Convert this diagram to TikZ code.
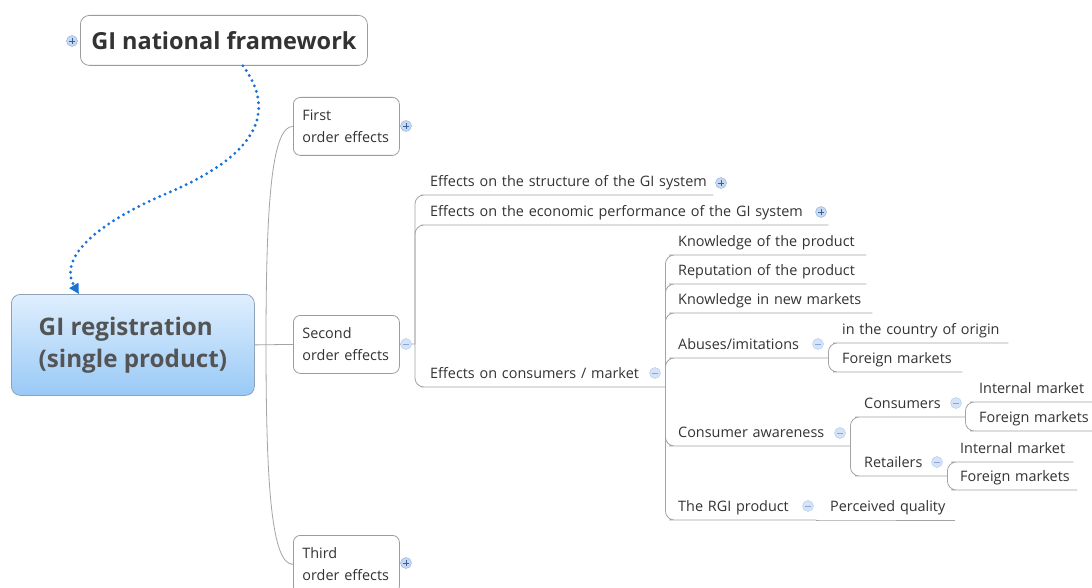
\documentclass[tikz,border=0pt]{standalone}
\usepackage{fontspec}
\setmainfont{Open Sans}
\usetikzlibrary{arrows.meta,positioning}

\definecolor{lngray}{HTML}{A4A4A4}
\definecolor{boxgray}{HTML}{9C9C9C}
\definecolor{txtgray}{HTML}{333333}
\definecolor{roottxt}{HTML}{545454}
\definecolor{rootdraw}{HTML}{8FA3B8}
\definecolor{rtop}{HTML}{DFEFFE}
\definecolor{rbot}{HTML}{99C9F6}
\definecolor{dotblue}{HTML}{1A72D8}
\definecolor{pfill}{HTML}{C6D9F3}
\definecolor{pdraw}{HTML}{8FAEDB}
\definecolor{psign}{HTML}{3C5F98}
\definecolor{mfill}{HTML}{D4E3F8}
\definecolor{mdraw}{HTML}{B2C8EC}
\definecolor{msign}{HTML}{8AA5D4}

\begin{document}
\begin{tikzpicture}[x=1pt,y=-1pt,
    every node/.style={text=txtgray},
    ln/.style={draw=lngray,line width=0.8pt,rounded corners=9pt},
    topbox/.style={draw=boxgray,line width=0.8pt,rounded corners=9pt,fill=white,anchor=north west,
      minimum width=287pt,minimum height=50pt,font=\bfseries\fontsize{23.5}{27}\selectfont},
    root/.style={draw=rootdraw,line width=0.8pt,rounded corners=9pt,top color=rtop,bottom color=rbot,
      anchor=north west,minimum width=243pt,minimum height=101pt,align=left,text=roottxt,
      font=\bfseries\fontsize{24.2}{32}\selectfont},
    box/.style={draw=boxgray,line width=0.8pt,rounded corners=7pt,anchor=north west,
      minimum height=58pt,text width=88pt,inner xsep=9pt,align=left,
      font=\fontsize{14.4}{22}\selectfont},
    sub/.style={anchor=south west,inner xsep=0pt,inner ysep=4.5pt,text height=11pt,text depth=4pt,
      align=left,font=\fontsize{14.4}{17}\selectfont},
    btn/.style={circle,inner sep=0pt,minimum size=11pt},
    plusbtn/.style={btn,draw=pdraw,fill=pfill,path picture={
      \draw[psign,line width=0.9pt] (path picture bounding box.center) +(-3pt,0) -- +(3pt,0)
        +(0,-3pt) -- +(0,3pt);}},
    minusbtn/.style={btn,draw=mdraw,fill=mfill,path picture={
      \draw[msign,line width=0.9pt] (path picture bounding box.center) +(-3pt,0) -- +(3pt,0);}},
    dots/.style={dotblue,line width=3.2pt,line cap=round,dash pattern=on 0pt off 5.8pt}]

\path[use as bounding box,fill=white] (0,0) rectangle (1092,588);

% main topics
\node[topbox] (FW) at (80,15) {GI national framework};
\node[root] (GR) at (11,294) {GI registration\\(single product)};
\node[box] (FO) at (293,97) {First\\order effects};
\node[box] (SO) at (293,315) {Second\\order effects};
\node[box] (TO) at (293,535) {Third\\order effects};

% second order effects
\node[sub,text width=283pt] (ST) at (430,195) {Effects on the structure of the GI system};
\node[sub,text width=398pt] (EC) at (430,225) {Effects on the economic performance of the GI system};
\node[sub,text width=235pt] (CM) at (430,387) {Effects on consumers / market};

\node[sub,text width=188pt] (KP) at (678,255) {Knowledge of the product};
\node[sub,text width=188pt] (RP) at (678,284) {Reputation of the product};
\node[sub,text width=194pt] (KN) at (678,313) {Knowledge in new markets};
\node[sub,text width=150pt] (AB) at (678,358) {Abuses/imitations};
\node[sub,text width=172pt] (CA) at (678,446) {Consumer awareness};
\node[sub,text width=138pt] (RG) at (678,520) {The RGI product};
\node[sub,text width=125pt] (PQ) at (830,520) {Perceived quality};

\node[sub,text width=166pt] (CO) at (842,343) {in the country of origin};
\node[sub,text width=120pt] (FA) at (842,372) {Foreign markets};

\node[sub,text width=101pt] (CN) at (864,417) {Consumers};
\node[sub,text width=83pt] (RT) at (864,476) {Retailers};
\node[sub,text width=121pt] (IC) at (979,402) {Internal market};
\node[sub,text width=121pt] (FC) at (979,431) {Foreign markets};
\node[sub,text width=113pt] (IR) at (960,462) {Internal market};
\node[sub,text width=117pt] (FR) at (960,490) {Foreign markets};

% connectors
\coordinate (j1) at (266,344);
\coordinate (j2) at (415,344);
\draw[ln] (GR.east) -- (SO.west);
\draw[ln] (j1) .. controls (266,200) and (272,126) .. (FO.west);
\draw[ln] (j1) .. controls (266,490) and (272,564) .. (TO.west);
\draw[ln] (SO.east) -- (j2);
\foreach \n in {ST,EC,CM}
  \draw[ln] (j2) |- (\n.south west) -- (\n.south east);
\foreach \n in {KP,RP,KN,AB,CA,RG}
  \draw[ln] (CM.south east) |- (\n.south west) -- (\n.south east);
\foreach \n in {CO,FA}
  \draw[ln] (AB.south east) |- (\n.south west) -- (\n.south east);
\foreach \n in {CN,RT}
  \draw[ln] (CA.south east) |- (\n.south west) -- (\n.south east);
\foreach \n in {IC,FC}
  \draw[ln] (CN.south east) |- (\n.south west) -- (\n.south east);
\foreach \n in {IR,FR}
  \draw[ln] (RT.south east) |- (\n.south west) -- (\n.south east);
\draw[ln] (RG.south east) -- (PQ.south west) -- (PQ.south east);

% relationship
\draw[dots,-{Triangle[length=10pt,width=10pt]}] ([xshift=19pt]FW.south)
  .. controls (272,105) and (268,150) .. (170,192)
  .. controls (85,228) and (60,262) .. ([xshift=-54pt]GR.north);

% expand / collapse buttons
\node[plusbtn] (FWb) at (72,41) {};
\node[plusbtn] (FOb) at (406,126) {};
\node[minusbtn] (SOb) at (406,344) {};
\node[plusbtn] (TOb) at (406,563) {};
\node[plusbtn] (STb) at (721,183) {};
\node[plusbtn] (ECb) at (821,212) {};
\node[minusbtn] (CMb) at (655,373) {};
\node[minusbtn] (ABb) at (818,344) {};
\node[minusbtn] (CAb) at (840,433) {};
\node[minusbtn] (CNb) at (956,403) {};
\node[minusbtn] (RTb) at (937,462) {};
\node[minusbtn] (RGb) at (808,506) {};
\end{tikzpicture}
\end{document}
